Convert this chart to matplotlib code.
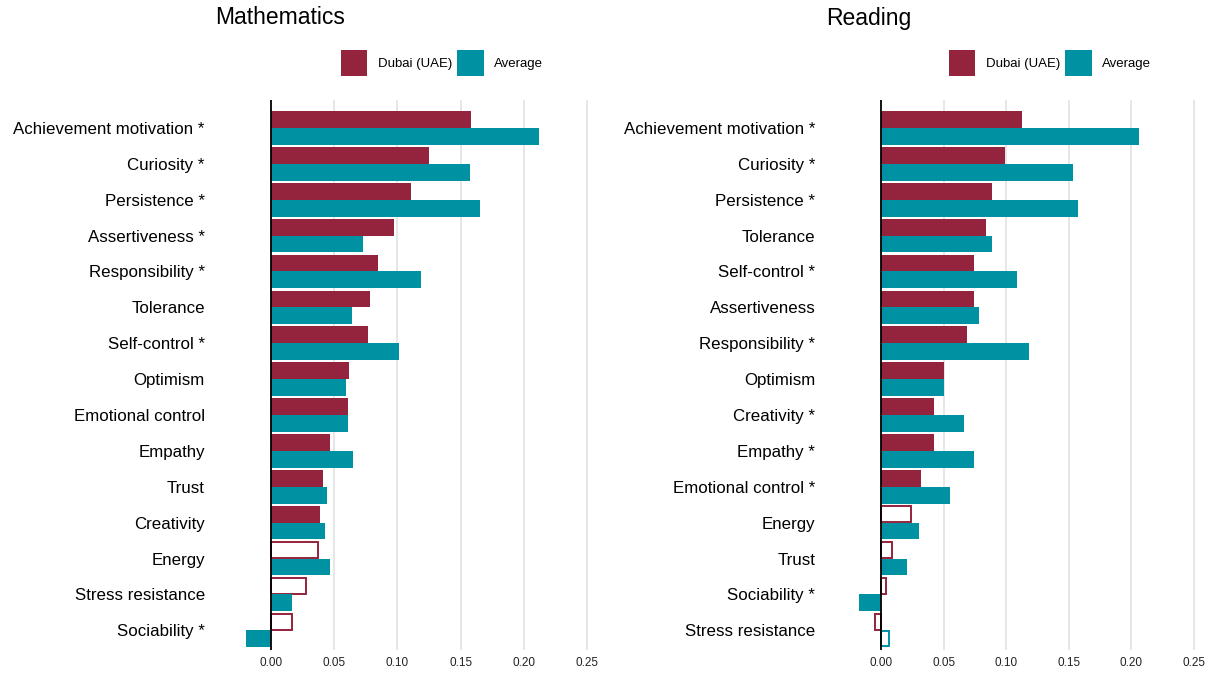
import matplotlib
matplotlib.use('Agg')
import matplotlib.pyplot as plt
from matplotlib.patches import Patch

plt.rcParams['font.family'] = ['Liberation Sans', 'DejaVu Sans']

# Mathematics
math_labels = ['Achievement motivation *', 'Curiosity *', 'Persistence *', 'Assertiveness *',
               'Responsibility *', 'Tolerance', 'Self-control *', 'Optimism',
               'Emotional control', 'Empathy', 'Trust', 'Creativity', 'Energy',
               'Stress resistance', 'Sociability *']
math_dubai = [0.158, 0.125, 0.111, 0.097, 0.085, 0.078, 0.077, 0.062, 0.061,
              0.047, 0.041, 0.039, 0.037, 0.028, 0.017]
math_avg = [0.212, 0.157, 0.165, 0.073, 0.119, 0.064, 0.101, 0.059, 0.061,
            0.065, 0.044, 0.043, 0.047, 0.017, -0.020]
math_dubai_sig = [1, 1, 1, 1, 1, 1, 1, 1, 1, 1, 1, 1, 0, 0, 0]
math_avg_sig = [1] * 15

# Reading
read_labels = ['Achievement motivation *', 'Curiosity *', 'Persistence *', 'Tolerance',
               'Self-control *', 'Assertiveness', 'Responsibility *', 'Optimism',
               'Creativity *', 'Empathy *', 'Emotional control *', 'Energy', 'Trust',
               'Sociability *', 'Stress resistance']
read_dubai = [0.113, 0.099, 0.089, 0.084, 0.074, 0.074, 0.069, 0.050, 0.042,
              0.042, 0.032, 0.024, 0.009, 0.004, -0.005]
read_avg = [0.206, 0.153, 0.157, 0.089, 0.109, 0.078, 0.118, 0.050, 0.066,
            0.074, 0.055, 0.030, 0.021, -0.018, 0.006]
read_dubai_sig = [1, 1, 1, 1, 1, 1, 1, 1, 1, 1, 1, 0, 0, 0, 0]
read_avg_sig = [1] * 14 + [0]

MAROON = '#94233D'
TEAL = '#0092A3'


def draw(ax, title, labels, dubai, avg, dubai_sig, avg_sig, title_x):
    n = len(labels)
    pos = list(range(n))
    h = 0.47
    for i in pos:
        for val, sig, col, off in [(dubai[i], dubai_sig[i], MAROON, -h / 2),
                                   (avg[i], avg_sig[i], TEAL, h / 2)]:
            if sig:
                ax.barh(i + off, val, height=h, color=col, zorder=2)
            else:
                ax.barh(i + off, val, height=h * 0.92, facecolor='white',
                        edgecolor=col, linewidth=1.4, zorder=2)
    ax.set_yticks(pos)
    ax.set_yticklabels(labels, fontsize=12.2)
    ax.set_ylim(14.55, -0.78)
    ax.set_xlim(-0.022, 0.26)
    ax.set_xticks([0, 0.05, 0.10, 0.15, 0.20, 0.25])
    ax.set_xticklabels(['0.00', '0.05', '0.10', '0.15', '0.20', '0.25'], fontsize=8.5)
    ax.tick_params(axis='both', length=0)
    ax.tick_params(axis='y', pad=27.5)
    ax.tick_params(axis='x', pad=5, colors='#222222')
    for x in [0.05, 0.10, 0.15, 0.20, 0.25]:
        ax.axvline(x, color='#e3e3e3', lw=1.2, zorder=0)
    ax.axvline(0, color='black', lw=1.3, zorder=3)
    for s in ax.spines.values():
        s.set_visible(False)
    handles = [Patch(facecolor=MAROON, label='Dubai (UAE)'),
               Patch(facecolor=TEAL, label='Average')]
    ax.legend(handles=handles, loc='center', bbox_to_anchor=(0.557, 1.067), ncol=2,
              frameon=False, fontsize=9.5, handlelength=2.0, handleheight=2.6,
              handletextpad=0.8, columnspacing=0.4, borderaxespad=0)
    ax.figure.text(title_x, 1 - 18 / 674, title, fontsize=16.5, ha='left', va='center')


fig = plt.figure(figsize=(12.17, 6.74), dpi=100)
ax1 = fig.add_axes([243 / 1217, 1 - 650 / 674, 357 / 1217, 550 / 674])
ax2 = fig.add_axes([853.5 / 1217, 1 - 650 / 674, 353 / 1217, 550 / 674])

draw(ax1, 'Mathematics', math_labels, math_dubai, math_avg, math_dubai_sig, math_avg_sig, 215 / 1217)
draw(ax2, 'Reading', read_labels, read_dubai, read_avg, read_dubai_sig, read_avg_sig, 826 / 1217)

fig.savefig('out.png', dpi=100)
